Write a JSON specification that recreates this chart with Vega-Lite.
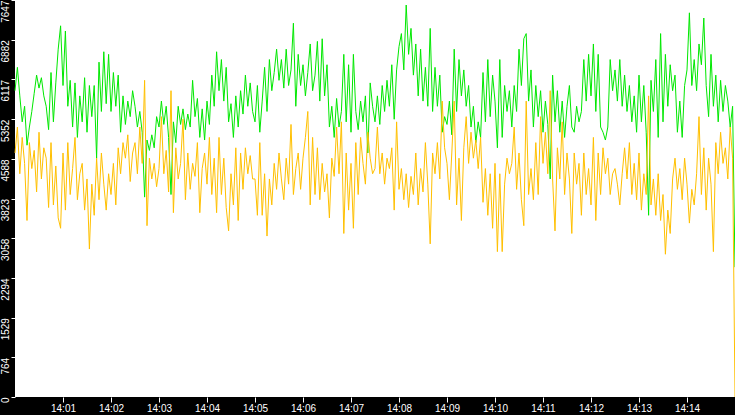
{
  "$schema": "https://vega.github.io/schema/vega-lite/v6.json",
  "width": 720,
  "height": 397,
  "autosize": {"type": "none"},
  "padding": {"left": 15, "top": 0, "right": 0, "bottom": 18},
  "background": "black",
  "data": {
    "values": [
      {"s":0,"g":5900,"o":4700},{"s":3,"g":6350,"o":5200},{"s":6,"g":5800,"o":4300},{"s":9,"g":5300,"o":5000},{"s":12,"g":5600,"o":4500},
      {"s":15,"g":4850,"o":3400},{"s":18,"g":5200,"o":4900},{"s":21,"g":5500,"o":4400},{"s":24,"g":5850,"o":4750},{"s":27,"g":6200,"o":3950},
      {"s":30,"g":5950,"o":5100},{"s":33,"g":6150,"o":4200},{"s":36,"g":5800,"o":4800},{"s":39,"g":5600,"o":4600},{"s":42,"g":5150,"o":3650},
      {"s":45,"g":6250,"o":4900},{"s":48,"g":5300,"o":3700},{"s":51,"g":6050,"o":4450},{"s":54,"g":6700,"o":3450},{"s":57,"g":7150,"o":3250},
      {"s":60,"g":6000,"o":4700},{"s":63,"g":7050,"o":3600},{"s":66,"g":5600,"o":4900},{"s":69,"g":6100,"o":3900},{"s":72,"g":5200,"o":4400},
      {"s":75,"g":6050,"o":5000},{"s":78,"g":5000,"o":3800},{"s":81,"g":5800,"o":4300},{"s":84,"g":5300,"o":4500},{"s":87,"g":6150,"o":3600},
      {"s":90,"g":5100,"o":4200},{"s":93,"g":6000,"o":2850},{"s":96,"g":5400,"o":4100},{"s":99,"g":6000,"o":3500},{"s":102,"g":4600,"o":4600},
      {"s":105,"g":6450,"o":3800},{"s":108,"g":5500,"o":4700},{"s":111,"g":6650,"o":4100},{"s":114,"g":5650,"o":3600},{"s":117,"g":6600,"o":4300},
      {"s":120,"g":5500,"o":3900},{"s":123,"g":6250,"o":4500},{"s":126,"g":5600,"o":3700},{"s":129,"g":6200,"o":4800},{"s":132,"g":5100,"o":4300},
      {"s":135,"g":5800,"o":4900},{"s":138,"g":5250,"o":4600},{"s":141,"g":5700,"o":5050},{"s":144,"g":5400,"o":4150},{"s":147,"g":5900,"o":4700},
      {"s":150,"g":5600,"o":4900},{"s":153,"g":5200,"o":4300},{"s":156,"g":5500,"o":5200},{"s":159,"g":5100,"o":4500},{"s":162,"g":3850,"o":6100},
      {"s":165,"g":4950,"o":3300},{"s":168,"g":4750,"o":4600},{"s":171,"g":5050,"o":4200},{"s":174,"g":4800,"o":4500},{"s":177,"g":5400,"o":4050},
      {"s":180,"g":5200,"o":4400},{"s":183,"g":5700,"o":5400},{"s":186,"g":5250,"o":4300},{"s":189,"g":5600,"o":4750},{"s":192,"g":5000,"o":3950},
      {"s":195,"g":3900,"o":5900},{"s":198,"g":5300,"o":3550},{"s":201,"g":4900,"o":4800},{"s":204,"g":5600,"o":4200},{"s":207,"g":5250,"o":4500},
      {"s":210,"g":5550,"o":5350},{"s":213,"g":5150,"o":3800},{"s":216,"g":5450,"o":4700},{"s":219,"g":5200,"o":4000},{"s":222,"g":6100,"o":4500},
      {"s":225,"g":5400,"o":4250},{"s":228,"g":5750,"o":4900},{"s":231,"g":5000,"o":3550},{"s":234,"g":5550,"o":4400},{"s":237,"g":4950,"o":4700},
      {"s":240,"g":5700,"o":4100},{"s":243,"g":5250,"o":5000},{"s":246,"g":6200,"o":3900},{"s":249,"g":5600,"o":4600},{"s":252,"g":6650,"o":3550},
      {"s":255,"g":5900,"o":5000},{"s":258,"g":6500,"o":3900},{"s":261,"g":5700,"o":4600},{"s":264,"g":6350,"o":3650},{"s":267,"g":5300,"o":3200},
      {"s":270,"g":5650,"o":4300},{"s":273,"g":5000,"o":3700},{"s":276,"g":5800,"o":4800},{"s":279,"g":5200,"o":3400},{"s":282,"g":5900,"o":4700},
      {"s":285,"g":5450,"o":4000},{"s":288,"g":6200,"o":4800},{"s":291,"g":5600,"o":4300},{"s":294,"g":6050,"o":4650},{"s":297,"g":5500,"o":4200},
      {"s":300,"g":5300,"o":4200},{"s":303,"g":6000,"o":3500},{"s":306,"g":5100,"o":4900},{"s":309,"g":5700,"o":3500},{"s":312,"g":6350,"o":4300},
      {"s":315,"g":5500,"o":3100},{"s":318,"g":6500,"o":4200},{"s":321,"g":5900,"o":3700},{"s":324,"g":6250,"o":4500},{"s":327,"g":6700,"o":4000},
      {"s":330,"g":6100,"o":4700},{"s":333,"g":6500,"o":4200},{"s":336,"g":5950,"o":3800},{"s":339,"g":6700,"o":4600},{"s":342,"g":6000,"o":4100},
      {"s":345,"g":6300,"o":5250},{"s":348,"g":7200,"o":3900},{"s":351,"g":5600,"o":4400},{"s":354,"g":6600,"o":4700},{"s":357,"g":6000,"o":4000},
      {"s":360,"g":6400,"o":4600},{"s":363,"g":5800,"o":5000},{"s":366,"g":6250,"o":5500},{"s":369,"g":6800,"o":3700},{"s":372,"g":5900,"o":5000},
      {"s":375,"g":6200,"o":3900},{"s":378,"g":6850,"o":4800},{"s":381,"g":5700,"o":3800},{"s":384,"g":6900,"o":4500},{"s":387,"g":5800,"o":3950},
      {"s":390,"g":6400,"o":4300},{"s":393,"g":5200,"o":3450},{"s":396,"g":5600,"o":4600},{"s":399,"g":5000,"o":4250},{"s":402,"g":5750,"o":5200},
      {"s":405,"g":5200,"o":4300},{"s":408,"g":5500,"o":5300},{"s":411,"g":6600,"o":3150},{"s":414,"g":5300,"o":4700},{"s":417,"g":6400,"o":3600},
      {"s":420,"g":5100,"o":4500},{"s":423,"g":6600,"o":3250},{"s":426,"g":5500,"o":4900},{"s":429,"g":5150,"o":3900},{"s":432,"g":5700,"o":5000},
      {"s":435,"g":5300,"o":4500},{"s":438,"g":5800,"o":4100},{"s":441,"g":4700,"o":5100},{"s":444,"g":6050,"o":4600},{"s":447,"g":5600,"o":4300},
      {"s":450,"g":5300,"o":4400},{"s":453,"g":5800,"o":5200},{"s":456,"g":5250,"o":4300},{"s":459,"g":6000,"o":4700},{"s":462,"g":5500,"o":4100},
      {"s":465,"g":6100,"o":4600},{"s":468,"g":5600,"o":4400},{"s":471,"g":6400,"o":4800},{"s":474,"g":5350,"o":3600},{"s":477,"g":6300,"o":5300},
      {"s":480,"g":6750,"o":4000},{"s":483,"g":7000,"o":4400},{"s":486,"g":6300,"o":3800},{"s":489,"g":7550,"o":4300},{"s":492,"g":6600,"o":3650},
      {"s":495,"g":7100,"o":4250},{"s":498,"g":6200,"o":3900},{"s":501,"g":6800,"o":4700},{"s":504,"g":5800,"o":3700},{"s":507,"g":6700,"o":4400},
      {"s":510,"g":5700,"o":3950},{"s":513,"g":6350,"o":4900},{"s":516,"g":5600,"o":4100},{"s":519,"g":7100,"o":2950},{"s":522,"g":5500,"o":4700},
      {"s":525,"g":6350,"o":4300},{"s":528,"g":5600,"o":4900},{"s":531,"g":6200,"o":4200},{"s":534,"g":5100,"o":5700},{"s":537,"g":5400,"o":4800},
      {"s":540,"g":5250,"o":4500},{"s":543,"g":5700,"o":3800},{"s":546,"g":5050,"o":4700},{"s":549,"g":6700,"o":5700},{"s":552,"g":5500,"o":3700},
      {"s":555,"g":6500,"o":4600},{"s":558,"g":5800,"o":3400},{"s":561,"g":6300,"o":4800},{"s":564,"g":5600,"o":5400},{"s":567,"g":6000,"o":4500},
      {"s":570,"g":5200,"o":5100},{"s":573,"g":5600,"o":4600},{"s":576,"g":4900,"o":4950},{"s":579,"g":5300,"o":4400},{"s":582,"g":5000,"o":5000},
      {"s":585,"g":6250,"o":3750},{"s":588,"g":5300,"o":4400},{"s":591,"g":6500,"o":3500},{"s":594,"g":5400,"o":4300},{"s":597,"g":6200,"o":3250},
      {"s":600,"g":5700,"o":4500},{"s":603,"g":4800,"o":2800},{"s":606,"g":6500,"o":4300},{"s":609,"g":5000,"o":2800},{"s":612,"g":6000,"o":4100},
      {"s":615,"g":5500,"o":4600},{"s":618,"g":5900,"o":4300},{"s":621,"g":5200,"o":4500},{"s":624,"g":6000,"o":5200},{"s":627,"g":5500,"o":4000},
      {"s":630,"g":6700,"o":4700},{"s":633,"g":6000,"o":3800},{"s":636,"g":6900,"o":3300},{"s":639,"g":7000,"o":5700},{"s":642,"g":5700,"o":3900},
      {"s":645,"g":6300,"o":4400},{"s":648,"g":5200,"o":3800},{"s":651,"g":6000,"o":4900},{"s":654,"g":5400,"o":3900},{"s":657,"g":5900,"o":5400},
      {"s":660,"g":5100,"o":4500},{"s":663,"g":5700,"o":5100},{"s":666,"g":5250,"o":4300},{"s":669,"g":4200,"o":5900},{"s":672,"g":6200,"o":4200},
      {"s":675,"g":5300,"o":3200},{"s":678,"g":5900,"o":4800},{"s":681,"g":5100,"o":4200},{"s":684,"g":5700,"o":5300},{"s":687,"g":5000,"o":3900},
      {"s":690,"g":5600,"o":4700},{"s":693,"g":6000,"o":4200},{"s":696,"g":5200,"o":3150},{"s":699,"g":5100,"o":4700},{"s":702,"g":5600,"o":4100},
      {"s":705,"g":5300,"o":4500},{"s":708,"g":5500,"o":3500},{"s":711,"g":6500,"o":4700},{"s":714,"g":5700,"o":3900},{"s":717,"g":6600,"o":4400},
      {"s":720,"g":5800,"o":3700},{"s":723,"g":6800,"o":5000},{"s":726,"g":5500,"o":3400},{"s":729,"g":6600,"o":4700},{"s":732,"g":5200,"o":3900},
      {"s":735,"g":5100,"o":4800},{"s":738,"g":4950,"o":4300},{"s":741,"g":5200,"o":4600},{"s":744,"g":6500,"o":3900},{"s":747,"g":5900,"o":4300},
      {"s":750,"g":6300,"o":4400},{"s":753,"g":5700,"o":4100},{"s":756,"g":6500,"o":3700},{"s":759,"g":5600,"o":4300},{"s":762,"g":6200,"o":4800},
      {"s":765,"g":5500,"o":4200},{"s":768,"g":6000,"o":4900},{"s":771,"g":5300,"o":3900},{"s":774,"g":5800,"o":4500},{"s":777,"g":5100,"o":3800},
      {"s":780,"g":6200,"o":4700},{"s":783,"g":5300,"o":3600},{"s":786,"g":6000,"o":4300},{"s":789,"g":5100,"o":3900},{"s":792,"g":3500,"o":5800},
      {"s":795,"g":6100,"o":3700},{"s":798,"g":5500,"o":4200},{"s":801,"g":6500,"o":3500},{"s":804,"g":5000,"o":4300},{"s":807,"g":7000,"o":3400},
      {"s":810,"g":5300,"o":3900},{"s":813,"g":6600,"o":2750},{"s":816,"g":5600,"o":3600},{"s":819,"g":6400,"o":3150},{"s":822,"g":5900,"o":4200},
      {"s":825,"g":6200,"o":4600},{"s":828,"g":5100,"o":4000},{"s":831,"g":5700,"o":4400},{"s":834,"g":5000,"o":3800},{"s":837,"g":6000,"o":4600},
      {"s":840,"g":6300,"o":4100},{"s":843,"g":7400,"o":3350},{"s":846,"g":6000,"o":4000},{"s":849,"g":6500,"o":3700},{"s":852,"g":5900,"o":4300},
      {"s":855,"g":6800,"o":5400},{"s":858,"g":6400,"o":3900},{"s":861,"g":7300,"o":4800},{"s":864,"g":6000,"o":3600},{"s":867,"g":5400,"o":4600},
      {"s":870,"g":6600,"o":4100},{"s":873,"g":5600,"o":2800},{"s":876,"g":6200,"o":4900},{"s":879,"g":5300,"o":4300},{"s":882,"g":6100,"o":5100},
      {"s":885,"g":5500,"o":4500},{"s":888,"g":6000,"o":4800},{"s":891,"g":5700,"o":4200},{"s":894,"g":5200,"o":5200},{"s":897,"g":5600,"o":4600},
      {"s":900,"g":2500,"o":0}
    ]
  },
  "transform": [{"fold": ["g", "o"], "as": ["k", "v"]}],
  "mark": {"type": "line", "strokeWidth": 1},
  "encoding": {
    "x": {
      "field": "s",
      "type": "quantitative",
      "scale": {"domain": [0, 900], "nice": false},
      "axis": {
        "values": [60, 120, 180, 240, 300, 360, 420, 480, 540, 600, 660, 720, 780, 840],
        "labelExpr": "'14:' + (datum.value < 600 ? '0' : '') + (datum.value / 60)",
        "tickSize": 5
      }
    },
    "y": {
      "field": "v",
      "type": "quantitative",
      "scale": {"domain": [0, 7647], "nice": false},
      "axis": {
        "values": [0, 764, 1529, 2294, 3058, 3823, 4588, 5352, 6117, 6882, 7647],
        "format": "d",
        "tickSize": 4,
        "labelAngle": -90,
        "labelAlign": "right",
        "labelBaseline": "bottom",
        "labelOverlap": false
      }
    },
    "color": {
      "field": "k",
      "type": "nominal",
      "scale": {"domain": ["g", "o"], "range": ["#00e800", "#ffc000"]},
      "legend": null
    }
  },
  "config": {
    "view": {"stroke": null, "fill": "white"},
    "axis": {
      "title": null,
      "domain": false,
      "grid": false,
      "tickColor": "white",
      "labelColor": "white",
      "labelPadding": 1,
      "labelFont": "Liberation Sans",
      "labelFontSize": 10
    }
  }
}
